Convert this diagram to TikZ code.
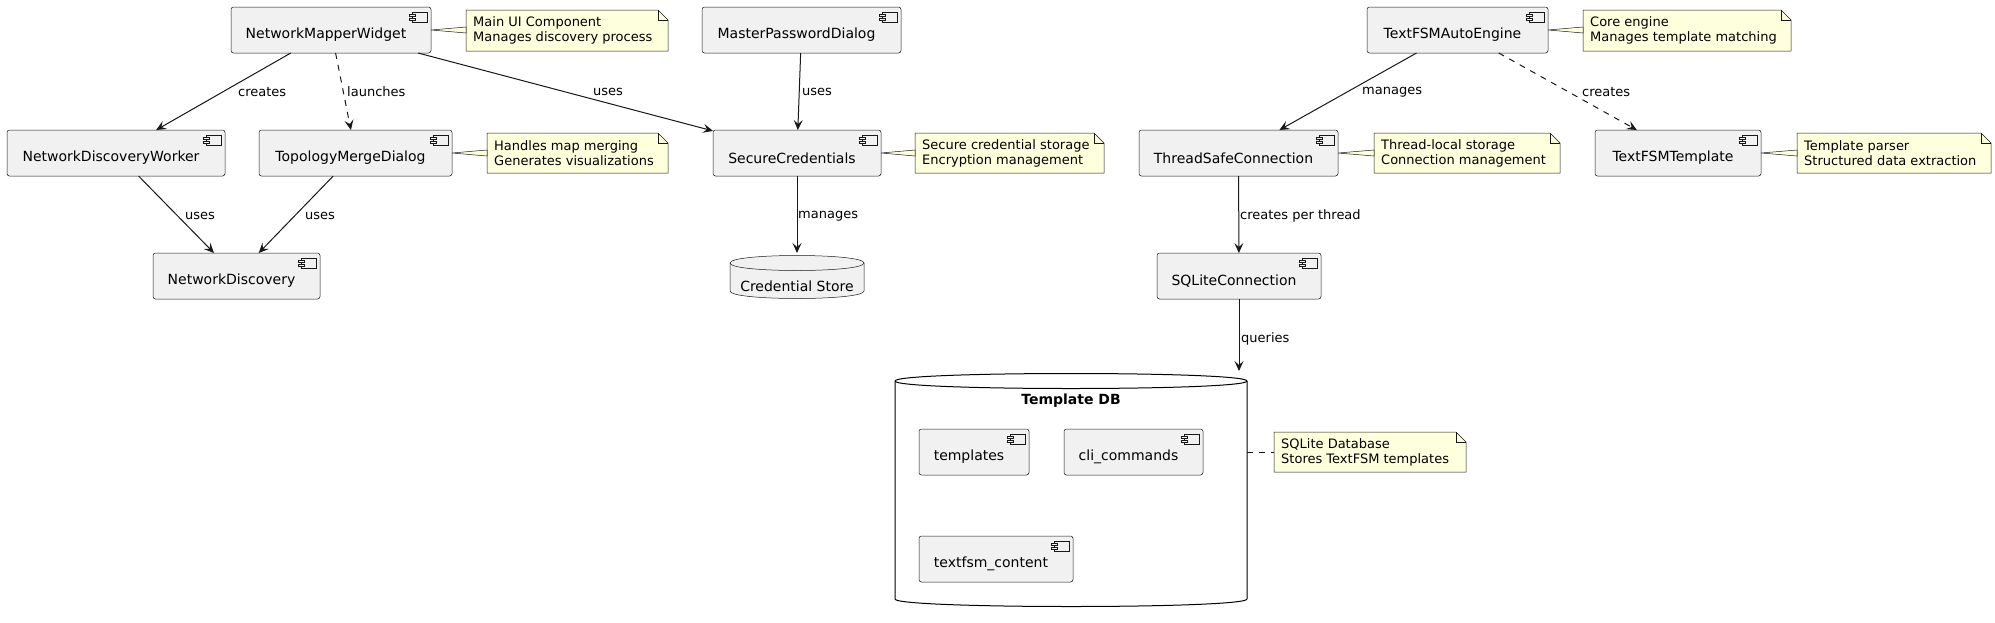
\documentclass[tikz,border=0pt]{standalone}
\usepackage{fontspec}
\setmainfont{DejaVu Sans}
\usetikzlibrary{arrows.meta,calc}
\definecolor{bord}{HTML}{181818}
\definecolor{cfill}{HTML}{F1F1F1}
\definecolor{nfill}{HTML}{FEFFDD}
\tikzset{
 comp/.style={draw=bord, fill=cfill, line width=0.5pt, rounded corners=2.5pt, inner sep=0pt, outer sep=0pt},
 ctext/.style={font=\fontsize{14}{16}\selectfont, inner sep=0pt},
 icon/.style={draw=bord, fill=cfill, line width=0.5pt, sharp corners, solid},
 notebg/.style={draw=bord, fill=nfill, line width=0.5pt},
 ntext/.style={font=\fontsize{13}{15}\selectfont, align=left, inner sep=0pt, anchor=west},
 elabel/.style={font=\fontsize{13}{15}\selectfont, inner sep=0pt, anchor=west},
 arr/.style={draw=bord, line width=1pt, -{Stealth[length=10pt,width=9pt,inset=4pt]}},
 dsh/.style={dash pattern=on 6pt off 6pt},
 bbox/.style={inner sep=0pt, outer sep=0pt},
}
\newcommand\mkcomp[6]{%
 \node[comp, minimum width=#4pt-#2pt, minimum height=#5pt-#3pt] (#1) at ({(#2+#4)/2},{(#3+#5)/2}) {};
 \draw[icon] ([xshift=-19pt,yshift=-5pt]#1.north east) rectangle ([xshift=-4pt,yshift=-15.5pt]#1.north east);
 \draw[icon] ([xshift=-22pt,yshift=-7pt]#1.north east) rectangle ([xshift=-16pt,yshift=-9.5pt]#1.north east);
 \draw[icon] ([xshift=-22pt,yshift=-11pt]#1.north east) rectangle ([xshift=-16pt,yshift=-13.5pt]#1.north east);
 \node[ctext] (#1-t) at ([xshift=-5pt,yshift=-5pt]#1.center) {#6};
}
\newcommand\mknote[6]{%
 \node[bbox, minimum width=#4pt-#2pt, minimum height=#5pt-#3pt] (#1) at ({(#2+#4)/2},{(#3+#5)/2}) {};
 \draw[notebg] (#1.south west) -- (#1.north west) -- ([xshift=-10pt]#1.north east) -- ([yshift=-10pt]#1.north east) -- (#1.south east) -- cycle;
 \draw[draw=bord, line width=0.5pt] ([xshift=-10pt]#1.north east) |- ([yshift=-10pt]#1.north east);
 \node[ntext] (#1-t) at ([xshift=7pt]#1.west) {#6};
}
\newcommand\mkwedge[2]{%
 \draw[notebg] (#1.east) -- ($(#2.west |- #1.east)+(0,-3)$) -- ($(#2.west |- #1.east)+(0,3)$) -- cycle;
}
\newcommand\cylpath[2]{%
 \draw[#2] ([yshift=-10pt]#1.north west) .. controls (#1.north west) and (#1.north east) .. ([yshift=-10pt]#1.north east) -- ([yshift=10pt]#1.south east) .. controls (#1.south east) and (#1.south west) .. ([yshift=10pt]#1.south west) -- cycle;
 \draw[#2, fill=none] ([yshift=-10pt]#1.north west) .. controls ([yshift=-20pt]#1.north west) and ([yshift=-20pt]#1.north east) .. ([yshift=-10pt]#1.north east);
}
\begin{document}
\begin{tikzpicture}[x=1pt,y=-1pt]
\useasboundingbox[fill=white] (0,0) rectangle (1995,622);

% cylinders
\node[bbox, minimum width=134pt, minimum height=48pt] (cs) at (797,277) {};
\cylpath{cs}{draw=bord, fill=cfill, line width=0.5pt}
\node[ctext] (cs-t) at ([yshift=-9pt]cs.center) {Credential Store};

\node[bbox, minimum width=352pt, minimum height=238pt] (tdb) at (1071,490) {};
\cylpath{tdb}{draw=black, fill=white, line width=1pt}
\node[ctext, font=\bfseries\fontsize{14}{16}\selectfont] (tdb-t) at ([yshift=-30pt]tdb.north) {Template DB};

% components
\mkcomp{nmw}{231}{7}{431}{53}{NetworkMapperWidget}
\mkcomp{mpd}{702}{7}{901}{53}{MasterPasswordDialog}
\mkcomp{tfa}{1367}{7}{1548}{53}{TextFSMAutoEngine}
\mkcomp{ndw}{7}{130}{225}{176}{NetworkDiscoveryWorker}
\mkcomp{tmd}{259}{130}{452}{176}{TopologyMergeDialog}
\mkcomp{sc}{713}{130}{881}{176}{SecureCredentials}
\mkcomp{tsc}{1139}{130}{1338}{176}{ThreadSafeConnection}
\mkcomp{tft}{1595}{130}{1761}{176}{TextFSMTemplate}
\mkcomp{nd}{153}{253}{320}{299}{NetworkDiscovery}
\mkcomp{sql}{1157}{253}{1321}{299}{SQLiteConnection}
\mkcomp{tpl}{919}{429}{1029}{475}{templates}
\mkcomp{cli}{1064}{429}{1203}{475}{cli\_commands}
\mkcomp{tfc}{919}{536}{1073}{582}{textfsm\_content}

% notes
\mknote{n1}{466}{10}{668}{51}{Main UI Component\\Manages discovery process}
\mknote{n2}{487}{133}{668}{173}{Handles map merging\\Generates visualizations}
\mknote{n3}{915}{133}{1104}{173}{Secure credential storage\\Encryption management}
\mknote{n4}{1583}{10}{1791}{51}{Core engine\\Manages template matching}
\mknote{n5}{1374}{133}{1560}{173}{Thread-local storage\\Connection management}
\mknote{n6}{1797}{133}{1991}{173}{Template parser\\Structured data extraction}
\mknote{n7}{1274}{432}{1466}{472}{SQLite Database\\Stores TextFSM templates}
\mkwedge{nmw}{n1}
\mkwedge{tmd}{n2}
\mkwedge{sc}{n3}
\mkwedge{tfa}{n4}
\mkwedge{tsc}{n5}
\mkwedge{tft}{n6}
\draw[draw=bord, line width=0.5pt, dsh] (tdb.east |- n7.west) -- (n7.west);

% connectors
\draw[arr] (nmw) -- (ndw);
\draw[arr, dsh] (nmw) -- (tmd);
\draw[arr] (nmw) -- (sc);
\draw[arr] (ndw) -- (nd);
\draw[arr] (tmd) -- (nd);
\draw[arr] (mpd) -- (sc);
\draw[arr] (sc) -- (cs);
\draw[arr] (tfa) -- (tsc);
\draw[arr, dsh] (tfa) -- (tft);
\draw[arr] (tsc) -- (sql);
\draw[arr] (sql) -- (sql |- tdb.north);

% connector labels
\node[elabel] (l1) at (238,92) {creates};
\node[elabel] (l2) at (347,92) {launches};
\node[elabel] (l3) at (593,92) {uses};
\node[elabel] (l4) at (185,216) {uses};
\node[elabel] (l5) at (305,216) {uses};
\node[elabel] (l6) at (802,92) {uses};
\node[elabel] (l7) at (798,216) {manages};
\node[elabel] (l8) at (1362,92) {manages};
\node[elabel] (l9) at (1582,92) {creates};
\node[elabel] (l10) at (1240,216) {creates per thread};
\node[elabel] (l11) at (1241,339) {queries};
\end{tikzpicture}
\end{document}
